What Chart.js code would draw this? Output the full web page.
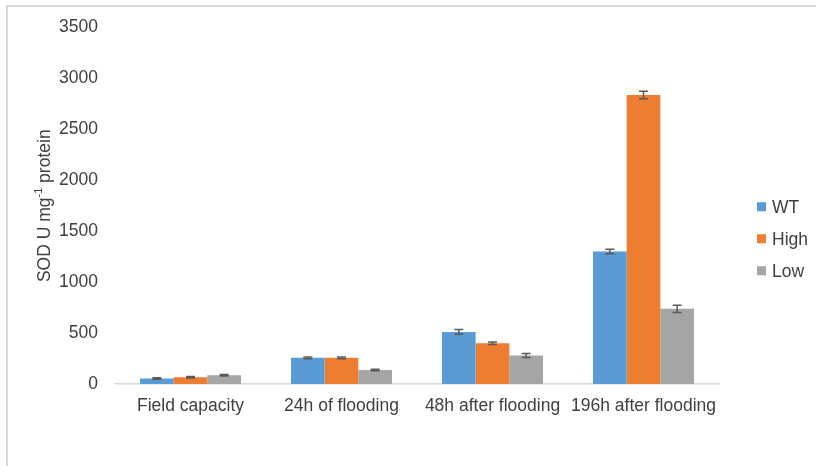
<!DOCTYPE html>
<html>
<head>
<meta charset="utf-8">
<script src="https://cdn.jsdelivr.net/npm/chart.js@4.4.1/dist/chart.umd.min.js"></script>
<style>
    html, body { margin: 0; padding: 0; background: #ffffff; }
    #wrap { position: relative; width: 816px; height: 466px; overflow: hidden; }
    #moldura { position: absolute; left: 6px; top: 5px; width: 900px; height: 900px; border: 2px solid #d9d9d9; }
    #grafico-sod { position: absolute; left: 0; top: 0; }
</style>
</head>
<body>
<div id="wrap">
    <div id="moldura"></div>
    <canvas id="grafico-sod" width="816" height="466"></canvas>
</div>
<script>
// dados do gráfico
const categorias = ['Field capacity', '24h of flooding', '48h after flooding', '196h after flooding'];
const nomesSeries = ['WT', 'High', 'Low'];
const valoresWT = [54, 257, 511, 1301];
const valoresHigh = [66, 257, 400, 2838];
const valoresLow = [86, 137, 279, 738];
const erroWT = [8, 9, 23, 22];
const erroHigh = [8, 9, 12, 37];
const erroLow = [7, 7, 20, 35];
const ticksY = [0, 500, 1000, 1500, 2000, 2500, 3000, 3500];

const cores = ['#5b9bd5', '#ed7d31', '#a5a5a5'];
const fonte = '"Liberation Sans", Arial, sans-serif';
const corTexto = '#404040';
const tamanhoFonte = 17.5;

// barras de erro desenhadas sobre cada barra
const barrasErro = {
    id: 'barrasErro',
    afterDatasetsDraw(chart) {
        const ctx = chart.ctx;
        const escalaY = chart.scales.y;
        chart.data.datasets.forEach((ds, i) => {
            const meta = chart.getDatasetMeta(i);
            meta.data.forEach((barra, j) => {
                const v = ds.data[j];
                const e = ds.erros[j];
                const cima = escalaY.getPixelForValue(v + e);
                const baixo = escalaY.getPixelForValue(v - e);
                ctx.save();
                ctx.strokeStyle = '#595959';
                ctx.lineWidth = 1.5;
                ctx.beginPath();
                ctx.moveTo(barra.x, cima);
                ctx.lineTo(barra.x, baixo);
                ctx.moveTo(barra.x - 4.5, cima);
                ctx.lineTo(barra.x + 4.5, cima);
                ctx.moveTo(barra.x - 4.5, baixo);
                ctx.lineTo(barra.x + 4.5, baixo);
                ctx.stroke();
                ctx.restore();
            });
        });
    }
};

// título do eixo Y com expoente
const tituloY = {
    id: 'tituloY',
    afterDraw(chart) {
        const ctx = chart.ctx;
        const area = chart.chartArea;
        const partes = [
            { t: 'SOD U mg', f: tamanhoFonte + 'px ' + fonte, dy: 0 },
            { t: '-1', f: '11px ' + fonte, dy: -6 },
            { t: ' protein', f: tamanhoFonte + 'px ' + fonte, dy: 0 }
        ];
        ctx.save();
        let total = 0;
        partes.forEach(p => { ctx.font = p.f; p.w = ctx.measureText(p.t).width; total += p.w; });
        ctx.translate(45, (area.top + area.bottom) / 2);
        ctx.rotate(-Math.PI / 2);
        ctx.fillStyle = corTexto;
        ctx.textBaseline = 'middle';
        ctx.textAlign = 'left';
        let x = -total / 2;
        partes.forEach(p => {
            ctx.font = p.f;
            ctx.fillText(p.t, x, p.dy);
            x += p.w;
        });
        ctx.restore();
    }
};

// legenda à direita
const legendaLateral = {
    id: 'legendaLateral',
    afterDraw(chart) {
        const ctx = chart.ctx;
        const area = chart.chartArea;
        const x = area.right + 38;
        const centro = (area.top + area.bottom) / 2 + 33;
        ctx.save();
        ctx.font = tamanhoFonte + 'px ' + fonte;
        ctx.textBaseline = 'middle';
        chart.data.datasets.forEach((ds, i) => {
            const y = centro + (i - 1) * 32;
            ctx.fillStyle = ds.backgroundColor;
            ctx.fillRect(x, y - 4.5, 9, 9);
            ctx.fillStyle = corTexto;
            ctx.fillText(ds.label, x + 15, y + 1);
        });
        ctx.restore();
    }
};

const valores = [valoresWT, valoresHigh, valoresLow];
const erros = [erroWT, erroHigh, erroLow];

const ctx = document.getElementById('grafico-sod').getContext('2d');
new Chart(ctx, {
    type: 'bar',
    data: {
        labels: categorias,
        datasets: nomesSeries.map((nome, i) => ({
            label: nome,
            data: valores[i],
            erros: erros[i],
            backgroundColor: cores[i],
            borderWidth: 0,
            categoryPercentage: 0.669,
            barPercentage: 1
        }))
    },
    options: {
        responsive: false,
        animation: false,
        devicePixelRatio: 1,
        layout: { padding: { top: 25, right: 97, bottom: 0, left: 0 } },
        plugins: {
            legend: { display: false },
            tooltip: { enabled: false }
        },
        scales: {
            x: {
                grid: { display: false, drawTicks: false },
                border: { display: true, color: '#d9d9d9', width: 1.5 },
                ticks: { padding: 12, color: corTexto, font: { family: fonte, size: tamanhoFonte }, maxRotation: 0 },
                afterFit(escala) { escala.height = 82; }
            },
            y: {
                min: 0,
                max: 3500,
                grid: { display: false, drawTicks: false },
                border: { display: false },
                ticks: {
                    padding: 17,
                    color: corTexto,
                    font: { family: fonte, size: tamanhoFonte },
                    callback: v => String(v)
                },
                afterBuildTicks(escala) { escala.ticks = ticksY.map(v => ({ value: v })); },
                afterFit(escala) { escala.width = 115; }
            }
        }
    },
    plugins: [barrasErro, tituloY, legendaLateral]
});
</script>
</body>
</html>
